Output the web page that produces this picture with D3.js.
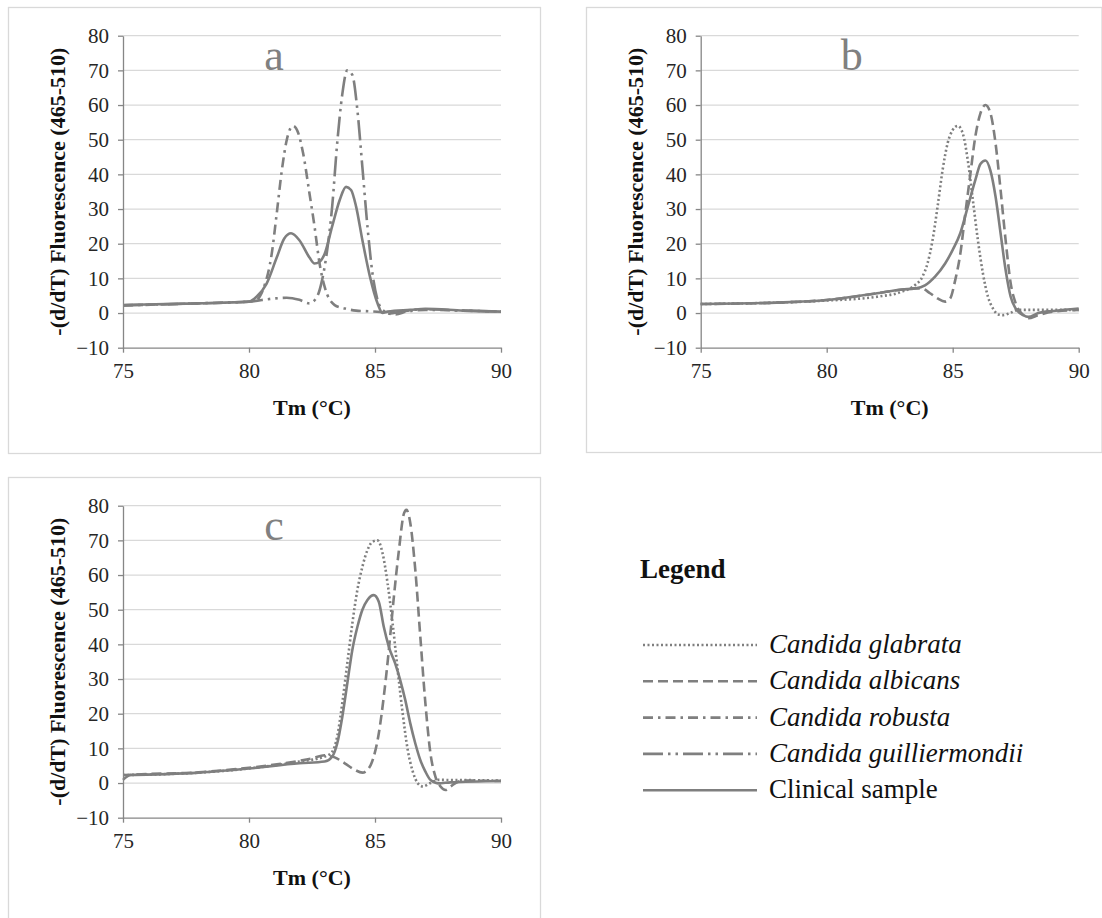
<!DOCTYPE html>
<html>
<head>
<meta charset="utf-8">
<script src="https://cdn.jsdelivr.net/npm/d3@7"></script>
<style>
  body { margin: 0; background: #fff; }
  svg { display: block; }
  text { font-family: "Liberation Serif", "Tinos", "Times New Roman", Times, "DejaVu Serif", "Noto Serif", serif; }
</style>
</head>
<body>
<svg id="chart" width="1102" height="918"></svg>
<script>
const xTicks = [75, 80, 85, 90];
const yTicks = [-10, 0, 10, 20, 30, 40, 50, 60, 70, 80];
const xTitle = "Tm (°C)";
const yTitle = "-(d/dT) Fluorescence (465-510)";

// panel a  [temperature, -(d/dT)]
const aRobusta = [[75,2.2],[78,2.8],[80,3.3],[80.3,3.8],[80.6,7.6],[80.9,17],[81.1,28.7],[81.3,41],[81.5,50],[81.75,54],
  [81.95,52],[82.15,46],[82.4,34.5],[82.6,25],[82.8,14.3],[83,7.6],[83.4,2.3],[83.8,1.3],[84.25,0.7],[84.8,0.5],[85.2,0.3],
  [85.8,-0.4],[86.3,0.5],[87,0.9],[88.5,0.7],[90,0.4]];
const aGuilliermondii = [[75,2.2],[78,2.8],[80,3.3],[81,4.2],[81.5,4.4],[82,3.8],[82.4,2.8],[82.7,4.7],[82.9,9.5],[83.1,18],
  [83.3,30.7],[83.5,49],[83.7,63],[83.9,70],[84.1,68.7],[84.3,58.6],[84.5,42],[84.7,25],[84.9,11.4],[85.1,3.8],[85.3,0.9],
  [85.6,-0.1],[86,0.4],[87,1.1],[88.5,0.7],[90,0.4]];
const aClinical = [[75,2.3],[78,2.8],[80,3.3],[80.3,4.7],[80.7,8.5],[81.1,16],[81.4,21.5],[81.67,23],[82,21],[82.4,16],
  [82.6,14.3],[82.8,14.8],[83,17],[83.3,25],[83.6,32.6],[83.85,36.4],[84.05,35.5],[84.25,30.7],[84.5,21],[84.8,10.5],
  [85.1,2.8],[85.3,0],[85.5,0.4],[86.4,0.9],[87,1.2],[88.5,0.7],[90,0.4]];

// panel b
const bGlabrata = [[75,2.6],[78,3],[80,3.6],[82,4.7],[83,6.2],[83.5,8],[83.8,10.5],[84,14.3],[84.2,21],[84.4,30.7],
  [84.6,41.3],[84.8,49],[85,52.8],[85.2,54],[85.4,51.8],[85.6,44],[85.8,32.6],[86,21],[86.2,11.4],[86.4,4.7],[86.6,1.3],
  [86.8,-0.4],[87,-0.6],[87.3,0.1],[87.6,0.9],[90,0.9]];
const bAlbicans = [[75,2.6],[78,3],[80,3.75],[82,5.7],[83,6.8],[83.5,7.1],[83.8,7],[84.1,5.7],[84.4,4.2],[84.7,3.3],
  [84.9,4.2],[85.1,9.5],[85.3,17],[85.5,28.7],[85.7,40],[85.9,51],[86.1,57.6],[86.3,60],[86.5,57.6],[86.7,49],[86.9,35.5],
  [87.1,21],[87.3,8.6],[87.5,2.8],[87.8,-0.6],[88,-1.5],[88.4,-0.6],[89,0.4],[90,0.9]];
const bClinical = [[75,2.6],[78,3],[80,3.75],[82,5.7],[83,6.8],[83.5,7.1],[83.9,8],[84.3,10.5],[84.7,14.3],[85,18.2],
  [85.3,23],[85.6,30.7],[85.9,38.4],[86.1,43],[86.3,44],[86.5,41],[86.7,33.6],[86.9,23],[87.1,12.4],[87.3,4.7],
  [87.5,1.3],[87.8,-0.6],[88,-1.1],[88.4,0],[89,0.6],[90,1.3]];

// panel c
const cGlabrata = [[75,2.3],[78,3],[80,4.2],[82,6.2],[83,7.6],[83.3,9],[83.5,13.4],[83.7,23],[83.9,34.5],[84.1,46],
  [84.3,55.7],[84.5,62.4],[84.7,67.2],[84.9,69.6],[85.1,70],[85.3,66.3],[85.5,57.6],[85.7,46],[85.9,32.6],[86.1,20],
  [86.3,9.5],[86.5,3.3],[86.7,-0.1],[86.9,-1],[87.2,0],[87.5,0.9],[90,0.7]];
const cAlbicans = [[75,0.9],[75.3,2.3],[78,3.1],[80,4.4],[82,6.4],[82.5,7.1],[83,8],[83.4,7.4],[83.8,5.7],[84.2,3.8],
  [84.5,3],[84.75,4.2],[84.95,7.6],[85.15,14.3],[85.35,25],[85.55,38.4],[85.75,53.8],[85.95,67.2],[86.15,77.8],
  [86.25,78.8],[86.4,75],[86.6,61.4],[86.8,42],[87,23],[87.2,8.6],[87.4,1.8],[87.6,-1],[87.8,-2],[88,-1],[88.3,0.4],
  [88.6,0.7],[90,0.6]];
const cClinical = [[75,2.3],[78,3],[80,4.2],[82,5.7],[83,6.2],[83.3,7.6],[83.5,11.4],[83.7,19],[83.9,28.7],[84.1,38.4],
  [84.3,45],[84.5,50],[84.7,52.8],[84.95,54.2],[85.15,52.3],[85.35,45],[85.55,39.3],[85.8,34.5],[86,29.7],[86.2,24],
  [86.4,17.2],[86.6,11.4],[86.8,6.6],[87,3.3],[87.2,0.9],[87.5,-0.1],[88,0.2],[90,0.6]];

const legendNames = ["Candida glabrata", "Candida albicans", "Candida robusta", "Candida guilliermondii", "Clinical sample"];
const legendKeys = ["glabrata", "albicans", "robusta", "guilliermondii", "clinical"];

const dash = {
  glabrata: "2,2.5",
  albicans: "10,5",
  robusta: "10,5,2.5,5",
  guilliermondii: "20,5,2.5,5,2.5,5",
  clinical: null
};

const lineColor = "#7f7f7f";
const svg = d3.select("#chart");
const W = 378, H = 312;

const panels = [
  { label: "a", left: 123, top: 35.7, box: [8, 7, 540, 453],
    series: [["robusta", aRobusta], ["guilliermondii", aGuilliermondii], ["clinical", aClinical]] },
  { label: "b", left: 700.7, top: 35.7, box: [586, 7, 1101.5, 452],
    series: [["glabrata", bGlabrata], ["albicans", bAlbicans], ["clinical", bClinical]] },
  { label: "c", left: 123, top: 505.7, box: [8, 477, 540, 940],
    series: [["glabrata", cGlabrata], ["albicans", cAlbicans], ["clinical", cClinical]] }
];

panels.forEach(p => {
  svg.append("rect")
    .attr("x", p.box[0] + 0.5).attr("y", p.box[1] + 0.5)
    .attr("width", p.box[2] - p.box[0]).attr("height", p.box[3] - p.box[1])
    .attr("fill", "#fff").attr("stroke", "#d9d9d9").attr("stroke-width", 1.3);

  const g = svg.append("g").attr("transform", "translate(" + p.left + "," + p.top + ")");
  const x = d3.scaleLinear().domain([75, 90]).range([0, W]);
  const y = d3.scaleLinear().domain([-10, 80]).range([H, 0]);

  // gridlines
  g.selectAll(".grid").data(yTicks.filter(d => d > -10)).enter().append("line")
    .attr("x1", 0).attr("x2", W)
    .attr("y1", d => y(d)).attr("y2", d => y(d))
    .attr("stroke", "#d9d9d9").attr("stroke-width", 1.3);

  // panel letter
  g.append("text")
    .attr("x", 151).attr("y", 34)
    .attr("text-anchor", "middle")
    .style("font-size", "44px").attr("fill", "#808080")
    .text(p.label);

  const line = d3.line().x(d => x(d[0])).y(d => y(d[1])).curve(d3.curveMonotoneX);
  p.series.forEach(s => {
    g.append("path").datum(s[1])
      .attr("d", line)
      .attr("fill", "none").attr("stroke", lineColor)
      .attr("stroke-width", 2.6)
      .attr("stroke-dasharray", dash[s[0]]);
  });

  const yAxis = g.append("g")
    .call(d3.axisLeft(y).tickValues(yTicks).tickSize(5).tickSizeOuter(0).tickPadding(9));
  const xAxis = g.append("g").attr("transform", "translate(0," + H + ")")
    .call(d3.axisBottom(x).tickValues(xTicks).tickSize(5).tickSizeOuter(0).tickPadding(10));
  [yAxis, xAxis].forEach(a => {
    a.attr("font-family", null);
    a.select(".domain").attr("stroke", "#868686").attr("stroke-width", 1.3);
    a.selectAll(".tick line").attr("stroke", "#868686").attr("stroke-width", 1.3);
    a.selectAll(".tick text")
      .style("font-size", "21px").attr("fill", "#262626");
  });

  g.append("text")
    .attr("transform", "translate(-58," + (H / 2) + ") rotate(-90)")
    .attr("text-anchor", "middle")
    .style("font-size", "22px").style("font-weight", "bold")
    .attr("fill", "#111")
    .text(yTitle);

  g.append("text")
    .attr("x", W / 2).attr("y", H + 67)
    .attr("text-anchor", "middle")
    .style("font-size", "22px").style("font-weight", "bold")
    .attr("fill", "#111")
    .text(xTitle);
});

// legend
const lg = svg.append("g");
lg.append("text")
  .attr("x", 640).attr("y", 578)
  .style("font-size", "27px").style("font-weight", "bold")
  .attr("fill", "#111")
  .text("Legend");

const rows = lg.selectAll(".row").data(legendKeys).enter().append("g")
  .attr("transform", (d, i) => "translate(0," + (645 + i * 36.3) + ")");
rows.append("line")
  .attr("x1", 643).attr("x2", 757).attr("y1", 0).attr("y2", 0)
  .attr("stroke", lineColor).attr("stroke-width", 2.6)
  .attr("stroke-dasharray", d => dash[d]);
rows.append("text")
  .attr("x", 769).attr("y", 8)
  .style("font-size", "27px")
  .style("font-style", (d, i) => i < 4 ? "italic" : "normal")
  .attr("fill", "#111")
  .text((d, i) => legendNames[i]);
</script>
</body>
</html>
